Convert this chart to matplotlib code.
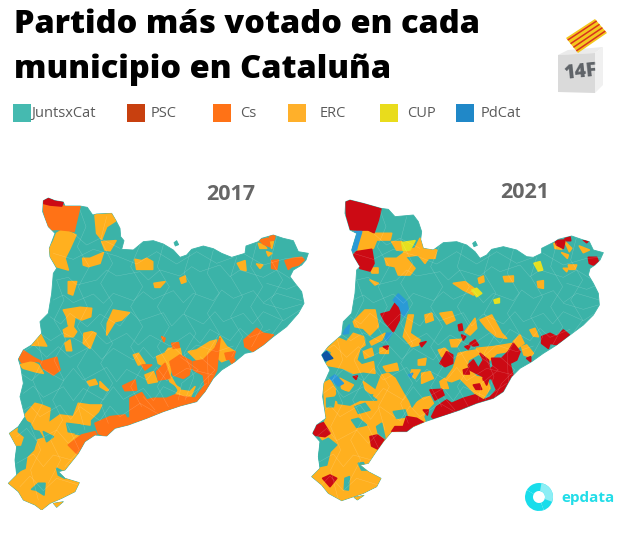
import matplotlib
matplotlib.use("Agg")
import matplotlib.pyplot as plt
from matplotlib.patches import Polygon, Rectangle, Wedge, PathPatch
from matplotlib.path import Path

# party names and colours of the legend
parties = ["JuntsxCat", "PSC", "Cs", "ERC", "CUP", "PdCat"]
legend_colors = ["#45BAB0", "#C8400F", "#FF7216", "#FFB02A", "#E9DC1C", "#2088C8"]

TEAL = "#3BB3A8"
RED = "#CC0A14"
ORANGE = "#FF7216"
AMBER = "#FFB01F"
YELLOW = "#E6E01F"
BLUE = "#2A9AD6"
NAVY = "#0C55A5"

# map outlines, in map units
outline_2017 = [(130,92),(145,84),(165,92),(190,96),(195,108),(240,108),(262,112),(278,135),(290,132),(335,130),(348,152),(360,175),(362,200),(372,212),(365,238),(400,240),(430,215),(460,212),(490,222),(520,240),(540,262),(560,255),(575,238),(610,228),(640,236),(665,250),(695,262),(735,250),(738,228),(775,215),(785,205),(820,195),(850,205),(880,212),(895,245),(925,250),(918,270),(905,285),(880,300),(870,320),(885,340),(905,365),(912,400),(895,430),(860,470),(820,500),(790,525),(760,545),(735,550),(705,575),(665,600),(640,625),(615,665),(590,695),(540,708),(490,725),(440,745),(385,765),(345,775),(320,798),(285,795),(255,815),(235,850),(215,875),(195,900),(175,905),(195,925),(238,938),(225,965),(185,985),(150,1000),(125,1020),(105,1005),(70,990),(55,965),(25,940),(50,915),(45,870),(50,830),(28,790),(55,770),(75,740),(60,680),(70,640),(62,590),(55,568),(70,540),(95,525),(125,490),(120,455),(145,430),(155,370),(160,310),(170,295),(150,260),(148,235),(165,190),(145,170),(128,125)]
islets_2017 = [[(160,1000),(190,995),(170,1012)],[(522,218),(530,212),(536,224),(526,228)]]

outline_2021 = [(137,95),(150,90),(190,100),(243,115),(265,118),(285,140),(340,135),(355,155),(365,185),(362,208),(370,235),(400,240),(430,218),(470,215),(500,225),(525,245),(540,265),(560,255),(575,238),(610,230),(650,240),(680,260),(700,262),(725,250),(725,235),(765,215),(775,208),(815,198),(850,210),(868,215),(880,240),(910,248),(900,270),(885,285),(870,295),(865,315),(880,340),(895,370),(898,405),(880,435),(850,465),(810,495),(770,525),(730,550),(695,575),(660,595),(635,620),(610,665),(580,685),(530,700),(480,720),(420,740),(375,755),(340,770),(320,785),(275,785),(250,815),(225,850),(205,880),(180,885),(205,905),(243,925),(230,950),(190,970),(125,992),(85,970),(65,945),(35,920),(60,895),(55,860),(60,815),(38,790),(50,765),(78,745),(68,680),(72,640),(90,600),(75,575),(65,555),(85,530),(125,495),(130,455),(155,430),(165,370),(170,300),(180,290),(162,260),(155,240),(170,190),(150,180),(135,130)]
islets_2021 = [[(162,982),(192,976),(172,990)],[(518,220),(526,214),(532,226),(522,230)]]

# 2017 winners
erc_2017 = [
    [(285,135),(340,130),(348,152),(320,170),(305,208),(290,190)],
    [(305,215),(348,212),(330,242),(315,240)],
    [(170,190),(190,178),(228,195),(210,235),(195,265),(205,300),(170,290),(150,260),(148,235),(160,215)],
    [(248,265),(270,265),(310,248),(300,280),(265,290),(250,285)],
    [(405,268),(425,272),(440,265),(458,275),(458,298),(410,298)],
    [(205,335),(230,335),(218,375),(205,370)],
    [(462,340),(495,335),(480,352),(465,352)],
    [(540,325),(555,318),(558,335),(545,340)],
    [(190,420),(240,412),(275,415),(272,440),(245,450),(225,440),(220,470),(205,465),(200,440)],
    [(190,480),(215,465),(230,485),(220,500),(195,500)],
    [(340,420),(388,428),(365,450),(345,455),(320,495),(322,460)],
    [(252,490),(275,485),(288,490),(270,535),(250,520)],
    [(195,520),(210,510),(215,542),(200,542)],
    [(95,525),(120,490),(140,528)],
    [(712,280),(735,272),(738,302),(722,298)],
    [(770,282),(788,285),(780,295)],
    [(800,245),(815,250),(805,258)],
    [(775,220),(790,225),(800,235),(780,235)],
    [(800,205),(820,215),(815,235)],
    [(60,585),(90,572),(115,585),(130,610),(105,605),(70,595)],
    [(400,555),(415,550),(435,580),(415,585)],
    [(262,635),(285,628),(292,642),(270,647)],
    [(300,635),(325,660),(320,662),(300,650)],
    [(75,735),(105,700),(125,705),(150,715),(145,760),(180,735),(220,740),(235,700),(270,705),(305,705),(295,725),(270,750),(270,765),(235,760),(220,795),(245,800),(235,850),(195,900),(165,905),(195,925),(238,938),(225,965),(185,985),(125,1020),(70,990),(25,940),(75,895),(80,860),(105,840),(110,810),(135,805),(120,780),(95,775)],
    [(28,790),(55,775),(75,800),(65,830),(45,825)],
    [(160,1000),(190,995),(170,1012)],
    [(470,560),(495,550),(505,535),(540,535),(545,560),(520,565),(510,615),(535,660),(570,665),(585,650),(565,695),(545,695),(520,685),(540,655),(510,635),(495,590),(475,580)],
    [(565,545),(590,540),(630,515),(650,510),(640,540),(610,570),(590,570)],
    [(650,560),(660,500),(680,530),(705,545),(690,565),(665,575)],
    [(435,615),(460,605),(472,635),(445,640)],
]
cs_2017 = [
    [(128,100),(145,98),(190,108),(240,108),(235,130),(222,185),(210,182),(170,178),(145,180),(135,145)],
    [(55,560),(70,542),(100,562),(125,575),(170,562),(180,600),(160,615),(130,595),(120,575),(90,572),(65,578)],
    [(390,685),(425,668),(440,690),(460,685),(500,685),(525,675),(550,680),(585,685),(600,665),(615,645),(610,615),(580,600),(580,575),(610,570),(645,535),(660,505),(655,550),(650,600),(630,640),(615,670),(590,700),(540,710),(490,725),(430,750),(390,760)],
    [(285,760),(330,740),(375,735),(380,745),(415,740),(395,760),(330,795),(315,800),(295,790)],
    [(205,825),(245,795),(285,785),(290,795),(255,825),(230,850)],
    [(732,510),(755,490),(770,475),(790,490),(820,495),(790,525),(760,545),(735,530)],
    [(510,575),(540,555),(575,575),(575,610),(550,625),(520,615)],
    [(470,605),(495,580),(510,625),(475,630)],
    [(368,648),(405,630),(410,660),(375,662)],
    [(425,585),(455,585),(435,600)],
    [(485,500),(495,505),(492,515)],
    [(515,520),(535,518),(538,532),(520,535)],
    [(690,570),(705,568),(698,585)],
    [(675,550),(705,545),(700,565),(680,568)],
    [(778,210),(805,205),(810,230),(790,222)],
    [(808,195),(825,197),(822,210),(810,212)],
    [(815,272),(835,270),(830,298),(815,295)],
    [(855,272),(880,265),(905,262),(912,270),(895,285),(875,290),(865,298)],
]
psc_2017 = [
    [(130,90),(145,84),(190,96),(185,108),(150,105),(130,100)],
]
junts_2017 = [
    [(60,745),(90,760),(100,780),(80,805),(55,785)],
    [(50,830),(65,830),(75,800),(110,810),(100,840),(80,860),(75,895),(50,905),(45,870)],
    [(130,785),(160,800),(140,815)],
    [(200,760),(240,765),(235,790),(205,785)],
    [(170,895),(190,905),(195,925),(175,915)],
    [(95,958),(115,940),(135,940),(132,975),(108,960)],
    [(575,600),(600,625),(585,635),(570,625)],
]

# 2021 winners
erc_2021 = [
    [(70,640),(90,630),(110,665),(95,690),(118,700),(155,695),(165,690),(220,680),(245,615),(265,610),(285,625),(310,670),(325,695),(335,720),(360,685),(390,680),(400,700),(380,720),(370,740),(375,755),(340,770),(270,790),(250,815),(225,850),(205,880),(180,885),(205,905),(243,925),(230,950),(190,970),(125,992),(85,970),(65,945),(35,920),(60,895),(85,880),(85,830),(60,800),(78,745)],
    [(120,625),(160,645),(145,665),(125,655)],
    [(190,635),(225,660),(240,670),(200,670)],
    [(162,982),(192,976),(172,990)],
    [(172,190),(200,180),(225,190),(275,190),(270,210),(230,210),(220,235),(175,245)],
    [(275,215),(305,215),(315,240),(290,240)],
    [(255,265),(290,265),(310,250),(315,240),(345,235),(360,205),(375,235),(410,240),(405,265),(385,265),(375,280),(355,255),(315,260),(345,295),(330,315),(295,315),(285,290),(260,285)],
    [(210,295),(235,295),(235,310),(215,310)],
    [(210,330),(235,340),(225,345)],
    [(460,340),(495,335),(535,365),(520,375),(490,360)],
    [(535,325),(550,318),(552,335),(538,340)],
    [(610,320),(640,318),(640,335),(615,335)],
    [(712,335),(730,332),(730,355),(715,352)],
    [(762,220),(775,225),(785,238),(765,235)],
    [(795,215),(815,235),(808,245)],
    [(838,228),(868,240),(850,248)],
    [(790,295),(805,295),(800,305)],
    [(785,248),(805,255),(802,265)],
    [(805,285),(830,285),(825,298),(808,298)],
    [(160,455),(195,420),(225,420),(235,470),(210,495),(190,475),(165,470)],
    [(75,535),(105,500),(140,515),(160,490),(190,500),(195,525),(180,535),(170,570),(185,585),(220,575),(225,610),(190,605),(160,610),(130,595),(105,590),(75,585),(90,570),(95,545)],
    [(190,545),(215,535),(220,555),(195,565)],
    [(210,515),(255,490),(245,510),(215,525)],
    [(240,535),(265,530),(265,550),(240,550)],
    [(310,500),(325,435),(340,435),(330,490),(360,510),(355,525),(335,530)],
    [(375,435),(395,430),(400,450),(378,458)],
    [(420,430),(455,425),(465,450),(440,462)],
    [(450,510),(485,508),(470,530),(455,530)],
    [(495,485),(525,445),(530,475),(510,495)],
    [(540,450),(575,435),(605,490),(620,505),(590,500),(560,475)],
    [(690,480),(705,475),(715,500),(700,498)],
    [(665,530),(680,525),(700,550),(690,560),(672,555)],
    [(640,515),(660,495),(672,520),(650,535)],
    [(415,540),(435,535),(445,545),(425,560)],
    [(435,630),(460,595),(475,550),(500,545),(530,540),(540,550),(505,570),(500,590),(530,620),(560,625),(570,655),(550,685),(525,670),(505,650),(480,625),(455,635)],
    [(530,535),(580,530),(640,520),(620,545),(590,550),(570,570),(540,555)],
    [(355,570),(378,565),(375,585),(355,585)],
    [(250,590),(290,580),(295,600),(260,605)],
    [(335,600),(360,600),(345,625),(332,615)],
    [(365,610),(390,605),(400,625),(365,640)],
    [(420,635),(435,625),(445,655),(425,655)],
]
junts_2021 = [
    [(55,820),(85,805),(110,825),(90,845),(80,885),(55,890),(55,860)],
    [(80,685),(105,682),(100,710),(80,710)],
    [(110,660),(155,670),(190,660),(230,690),(180,690),(150,705),(115,700)],
    [(155,750),(175,745),(200,765),(170,772)],
    [(230,770),(245,760),(255,805),(235,790)],
    [(280,725),(315,720),(322,740),(290,745)],
    [(175,880),(190,878),(200,900),(185,900)],
    [(135,925),(148,920),(145,960),(133,958)],
    [(165,710),(195,700),(210,720),(175,730)],
    [(570,600),(590,625),(575,630)],
    [(340,665),(370,650),(375,675),(345,695)],
]
psc_2021 = [
    [(137,95),(150,90),(190,100),(243,115),(235,150),(222,188),(205,180),(170,180),(150,178),(140,140)],
    [(160,255),(170,245),(215,238),(222,280),(210,303),(180,295)],
    [(243,432),(270,425),(285,400),(300,415),(298,450),(280,485),(255,455)],
    [(475,465),(485,462),(488,480),(478,482)],
    [(485,495),(497,500),(490,510)],
    [(510,520),(525,510),(535,525),(520,528)],
    [(495,530),(510,525),(505,538)],
    [(360,520),(378,515),(365,530)],
    [(250,530),(265,528),(262,538)],
    [(160,620),(172,618),(168,628)],
    [(420,580),(440,545),(458,555),(458,580),(435,590)],
    [(390,660),(425,658),(432,675),(405,690)],
    [(395,740),(410,710),(440,690),(455,700),(490,685),(525,675),(550,690),(570,682),(590,660),(575,625),(550,630),(550,610),(580,590),(575,565),(605,565),(625,545),(640,520),(660,545),(650,570),(630,580),(640,620),(615,670),(580,690),(530,705),(480,725),(400,745)],
    [(490,600),(505,595),(508,612),(492,612)],
    [(505,585),(520,570),(535,595),(550,570),(540,550),(565,570),(570,610),(550,620),(530,610),(510,600)],
    [(520,645),(538,642),(545,658),(528,658)],
    [(550,625),(565,630),(560,645)],
    [(320,740),(350,745),(375,760),(355,770),(320,795),(275,785),(285,770),(310,770)],
    [(370,720),(385,720),(382,735)],
    [(210,800),(232,795),(252,810),(235,838),(215,828)],
    [(38,770),(70,758),(90,790),(75,800),(40,795)],
    [(68,925),(90,915),(110,925),(90,950)],
    [(725,500),(750,490),(770,500),(790,480),(808,495),(775,525),(750,520),(745,535),(725,520)],
    [(765,212),(795,210),(790,235),(770,225)],
    [(795,205),(810,200),(812,212),(800,212)],
    [(850,210),(868,210),(860,218)],
    [(865,262),(890,262),(895,275),(880,285),(868,280)],
    [(680,565),(692,560),(692,575)],
]
cup_2021 = [
    [(305,218),(345,212),(330,240),(310,242)],
    [(515,360),(530,355),(545,370),(530,380)],
    [(702,280),(720,275),(728,300),(715,303)],
    [(582,390),(598,385),(598,398),(585,400)],
]
pdcat_2021 = [
    [(165,185),(185,185),(170,235),(158,245),(155,235)],
    [(280,390),(295,372),(320,395),(325,420),(310,440),(298,410)],
    [(260,490),(275,490),(262,510),(255,510)],
    [(135,480),(148,465),(145,490),(130,492)],
    [(90,625),(105,615),(130,640),(115,648)],
    [(325,615),(338,610),(332,622)],
]
pdcat_dark_2021 = [
    [(65,555),(80,545),(98,565),(75,572)],
]

# municipal boundaries, hand traced and shared by both maps
boundaries = [
    [(170,330),(205,322),(230,345),(290,330),(320,300),(350,318),(420,305),(445,330),(480,300),(540,318),(575,290),(600,305),(660,285),(690,320),(720,300),(790,322),(830,300),(870,325)],
    [(160,390),(190,375),(220,398),(280,372),(310,400),(340,370),(400,392),(430,365),(460,388),(520,362),(550,398),(580,370),(640,392),(665,360),(700,385),(760,362),(790,398),(830,370),(905,392)],
    [(150,440),(182,462),(210,430),(262,470),(300,432),(360,468),(392,425),(420,452),(490,428),(515,468),(550,432),(610,462),(645,425),(670,455),(730,430),(758,462),(790,425),(850,452),(900,420)],
    [(120,490),(152,512),(190,488),(250,520),(280,485),(320,522),(380,490),(415,525),(450,495),(510,528),(570,488),(600,520),(630,478),(690,512),(720,475),(750,502),(810,478)],
    [(70,545),(102,525),(140,562),(175,530),(210,562),(270,530),(305,568),(340,535),(400,570),(430,532),(460,565),(520,530),(550,560),(590,525),(650,545),(700,528)],
    [(62,610),(95,632),(130,598),(190,632),(220,595),(250,630),(320,592),(350,635),(380,598),(440,630),(470,592),(500,632),(560,595),(640,615)],
    [(70,670),(100,648),(130,682),(190,650),(220,692),(250,655),(310,690),(340,650),(370,688),(430,655),(460,692),(490,650),(560,682),(620,640)],
    [(60,730),(92,708),(120,740),(180,705),(212,748),(240,710),(300,752),(330,708),(360,740),(420,700),(480,735)],
    [(50,800),(80,775),(110,812),(170,780),(205,820),(235,790)],
    [(50,880),(100,852),(130,890),(160,855),(215,870)],
    [(60,950),(90,918),(130,962),(170,925),(235,945)],
    [(220,190),(260,225),(300,205),(360,235)],
    [(160,250),(220,268),(280,238),(350,258),(410,282),(470,245),(530,282),(590,245),(650,280),(700,262)],
    [(240,120),(258,170),(232,230),(268,290),(235,350),(262,410),(232,470),(268,530),(232,590),(268,650),(235,710),(255,780)],
    [(320,140),(302,210),(338,280),(302,340),(338,400),(302,460),(338,520),(302,580),(338,640),(302,700),(325,760)],
    [(420,225),(392,290),(428,350),(392,410),(428,470),(392,530),(428,590),(392,650),(425,710)],
    [(490,225),(472,290),(508,350),(472,410),(508,470),(472,530),(508,590),(472,650),(505,710)],
    [(570,250),(552,310),(588,370),(552,430),(588,490),(552,550),(582,620),(555,690)],
    [(640,240),(622,310),(658,370),(622,430),(658,490),(622,550),(625,640)],
    [(710,262),(692,320),(728,380),(692,440),(728,500),(695,560)],
    [(770,220),(752,290),(788,350),(752,410),(788,470),(755,530)],
    [(830,200),(812,270),(848,330),(812,390),(848,450),(815,495)],
    [(170,330),(192,390),(162,450),(198,510),(162,570),(192,630),(158,690),(188,750),(152,810),(182,870),(145,940)],
    [(110,500),(128,570),(98,630),(128,700),(92,770),(122,840),(92,900),(115,990)],
    [(730,250),(790,285),(860,265),(910,262)],
    [(800,340),(860,358),(900,342)],
    [(790,400),(850,418),(905,402)],
    [(600,560),(645,600),(605,640),(585,680)],
    [(540,560),(595,600),(545,640),(535,690)],
    [(430,680),(465,720)],
    [(200,760),(238,840),(195,890)],
]


def draw_map(ax, outline, islets, layers):
    codes, verts = [], []
    for ring in [outline] + islets:
        verts += ring + [ring[0]]
        codes += [Path.MOVETO] + [Path.LINETO] * (len(ring) - 1) + [Path.CLOSEPOLY]
    clip = PathPatch(Path(verts, codes), facecolor=TEAL, edgecolor=TEAL, lw=0.6, joinstyle="round", zorder=1)
    ax.add_patch(clip)
    for shapes, color in layers:
        for shape in shapes:
            # the wide round edge softens the corners of the traced shapes
            p = Polygon(shape, closed=True, facecolor=color, edgecolor=color, lw=1.2,
                        joinstyle="round", zorder=2)
            ax.add_patch(p)
            p.set_clip_path(clip)
    for line in boundaries:
        xs, ys = zip(*line)
        l, = ax.plot(xs, ys, color="white", lw=0.3, alpha=0.25, zorder=3)
        l.set_clip_path(clip)
    ax.set_xlim(0, 960)
    ax.set_ylim(1020, 0)
    ax.axis("off")


W, H = 639, 536
fig = plt.figure(figsize=(W / 100, H / 100), dpi=100, facecolor="white")

ax17 = fig.add_axes([0 / W, 1 - 510 / H, 320 / W, 340 / H])
ax21 = fig.add_axes([300 / W, 1 - 510 / H, 320 / W, 340 / H])
draw_map(ax17, outline_2017, islets_2017,
         [(erc_2017, AMBER), (cs_2017, ORANGE), (psc_2017, RED), (junts_2017, TEAL)])
draw_map(ax21, outline_2021, islets_2021,
         [(erc_2021, AMBER), (junts_2021, TEAL), (psc_2021, RED), (cup_2021, YELLOW),
          (pdcat_2021, BLUE), (pdcat_dark_2021, NAVY)])

# page overlay in pixels for the text, legend and logos
page = fig.add_axes([0, 0, 1, 1], facecolor="none")
page.set_xlim(0, W)
page.set_ylim(H, 0)
page.axis("off")

page.text(14, 33, "Partido más votado en cada", family="Open Sans", weight=800,
          fontsize=23.4, color="black", va="baseline")
page.text(14, 78, "municipio en Cataluña", family="Open Sans", weight=800,
          fontsize=23.4, color="black", va="baseline")

swatch_x = [13, 127, 213, 288, 380, 456]
label_x = [31, 151, 240, 320, 407, 481]
for name, color, sx, lx in zip(parties, legend_colors, swatch_x, label_x):
    page.add_patch(Rectangle((sx, 104), 18, 18, facecolor=color, edgecolor="none"))
    page.text(lx, 113.5, name, family="Open Sans", fontsize=10.5, color="#5A5A5A", va="center")

page.text(231, 194, "2017", family="Open Sans", weight="bold", fontsize=15.5, color="#666666",
          ha="center", va="center")
page.text(525, 193, "2021", family="Open Sans", weight="bold", fontsize=15.5, color="#666666",
          ha="center", va="center")

# 14F ballot box
page.add_patch(Polygon([(558, 55), (568, 50), (603, 47), (595, 53)], facecolor="#EBEBEB", edgecolor="none"))
page.add_patch(Polygon([(558, 55), (595, 53), (595, 93), (558, 92)], facecolor="#DADADA", edgecolor="none"))
page.add_patch(Polygon([(595, 53), (603, 47), (603, 85), (595, 93)], facecolor="#F0F0F0", edgecolor="none"))
page.add_patch(Polygon([(566, 38), (595, 19), (607, 33), (578, 53)], facecolor="#F4C81E", edgecolor="none"))
for f in [0.14, 0.38, 0.62, 0.86]:
    a = (566 + 12 * f, 38 + 15 * f)
    b = (595 + 12 * f, 19 + 14 * f)
    page.plot([a[0], b[0]], [a[1], b[1]], color="#D8321E", lw=1.1, solid_capstyle="butt")
page.text(580, 72, "14F", family="Open Sans", weight=800, fontsize=14, color="#5F6368",
          ha="center", va="center", rotation=6)

# epdata logo
page.add_patch(Wedge((539, 497), 14, -150, 70, width=8, facecolor="#19DDEB", edgecolor="none"))
page.add_patch(Wedge((539, 497), 14, 70, 210, width=8, facecolor="#19DDEB", edgecolor="none"))
page.add_patch(Wedge((539, 497), 14, -80, 20, width=8, facecolor="#8DEEF5", edgecolor="none"))
page.text(561, 498, "epdata", family="Open Sans", weight="bold", fontsize=11, color="#22DDE8", va="center")

fig.savefig("out.png", dpi=100)
